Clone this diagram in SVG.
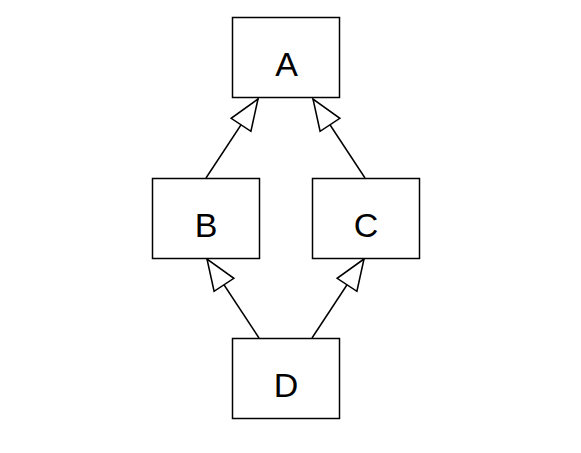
<svg xmlns="http://www.w3.org/2000/svg" width="581" height="453" viewBox="0 0 581 453">
<style>
.box{fill:#fff;stroke:#000;stroke-width:1.5}
.lbl{font-family:"Liberation Sans",Arial,sans-serif;font-size:34px;fill:#000;text-anchor:middle}
.edge{stroke:#000;stroke-width:1.5;fill:none;marker-end:url(#tri)}
</style>
<defs>
<marker id="tri" markerUnits="userSpaceOnUse" markerWidth="36" markerHeight="30" viewBox="-33 -14 35 28" refX="0" refY="0" orient="auto">
<path d="M0,0 L-30,-11.5 L-30,11.5 Z" fill="#fff" stroke="#000" stroke-width="1.5"/>
</marker>
</defs>
<rect width="581" height="453" fill="#fff"/>
<g id="edges">
<line class="edge" x1="206" y1="178" x2="258" y2="99"/>
<line class="edge" x1="365" y1="178" x2="313" y2="99"/>
<line class="edge" x1="259" y1="338" x2="207" y2="259"/>
<line class="edge" x1="312" y1="338" x2="364" y2="259"/>
</g>
<g id="A"><rect class="box" x="232.5" y="17.5" width="107" height="80"/><text class="lbl" x="286.5" y="76">A</text></g>
<g id="B"><rect class="box" x="152.5" y="178.5" width="107" height="80"/><text class="lbl" x="206" y="237">B</text></g>
<g id="C"><rect class="box" x="312.5" y="178.5" width="107" height="80"/><text class="lbl" x="366" y="237">C</text></g>
<g id="D"><rect class="box" x="232.5" y="338.5" width="107" height="80"/><text class="lbl" x="286" y="397">D</text></g>
</svg>
